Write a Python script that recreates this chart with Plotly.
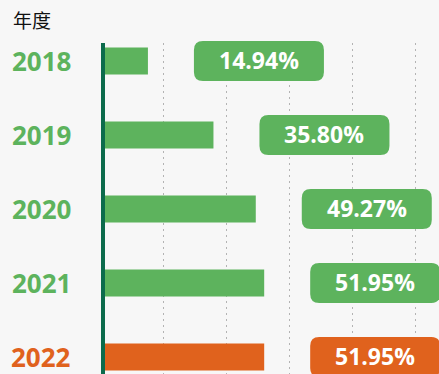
import plotly.graph_objects as go

# Data
years = ["2018", "2019", "2020", "2021", "2022"]
rates = [14.94, 35.80, 49.27, 51.95, 51.95]
label_texts = ["14.94%", "35.80%", "49.27%", "51.95%", "51.95%"]

GREEN = "#5db35d"
ORANGE = "#e0621d"
AXIS_GREEN = "#0c6b4c"
BG = "#f7f7f7"

colors = [ORANGE if y == "2022" else GREEN for y in years]
ypos = list(range(len(years)))

Y_RANGE = [4.23, -0.243]   # reversed so the first year sits on top


def y_to_paper(v):
    """Map a y-axis value to a paper fraction of the plot area."""
    return (Y_RANGE[0] - v) / (Y_RANGE[0] - Y_RANGE[1])


fig = go.Figure()
fig.add_trace(go.Bar(
    x=rates, y=ypos, orientation="h",
    marker=dict(color=colors, line=dict(width=0)),
    width=0.365, hoverinfo="skip",
))

shapes = []
annotations = []

# Rounded value badges beside each bar (pixel-sized, anchored at bar end)
L, R, H, r = 46, 176, 20, 9
badge = (f"M {L+r},{-H} L {R-r},{-H} Q {R},{-H} {R},{-H+r} L {R},{H-r} "
         f"Q {R},{H} {R-r},{H} L {L+r},{H} Q {L},{H} {L},{H-r} "
         f"L {L},{-H+r} Q {L},{-H} {L+r},{-H} Z")
for i, (v, c, t) in enumerate(zip(rates, colors, label_texts)):
    shapes.append(dict(
        type="path", xref="x", yref="paper",
        xsizemode="pixel", ysizemode="pixel",
        xanchor=v, yanchor=y_to_paper(i), path=badge,
        fillcolor=c, line=dict(width=0), layer="above",
    ))
    annotations.append(dict(
        x=v, y=i, xref="x", yref="y", text=t, showarrow=False,
        xanchor="center", yanchor="middle", xshift=(L + R) / 2, yshift=1,
        font=dict(family="Open Sans", size=23, color="white", weight=700),
    ))
    # Category labels on the left
    annotations.append(dict(
        x=0, y=i, xref="paper", yref="y", text=years[i], showarrow=False,
        xanchor="right", yanchor="middle", xshift=-28,
        font=dict(family="Open Sans", size=26, color=c, weight=700),
    ))

# Vertical axis line
shapes.append(dict(
    type="line", xref="x", yref="paper", xsizemode="pixel", xanchor=0,
    x0=1.5, x1=1.5, y0=0, y1=1,
    line=dict(color=AXIS_GREEN, width=5), layer="above",
))

# Axis title
annotations.append(dict(
    xref="paper", yref="paper", x=0, y=1, text="年度", showarrow=False,
    xanchor="left", yanchor="bottom", xshift=-101 + 11, yshift=8,
    font=dict(family="Noto Sans CJK SC", size=19, color="#111111"),
))

fig.update_layout(
    width=439, height=374,
    margin=dict(l=101, r=0, t=43, b=0),
    paper_bgcolor=BG, plot_bgcolor=BG,
    showlegend=False,
    shapes=shapes, annotations=annotations,
    xaxis=dict(
        range=[0, 107.6], dtick=20, tick0=0,
        showgrid=True, gridcolor="#b3b3b3", gridwidth=1, griddash="2px,4px",
        showticklabels=False, zeroline=False, showline=False, ticks="",
    ),
    yaxis=dict(
        range=Y_RANGE, showgrid=False, showticklabels=False,
        zeroline=False, showline=False, ticks="",
    ),
)

fig.write_html("out.html")
